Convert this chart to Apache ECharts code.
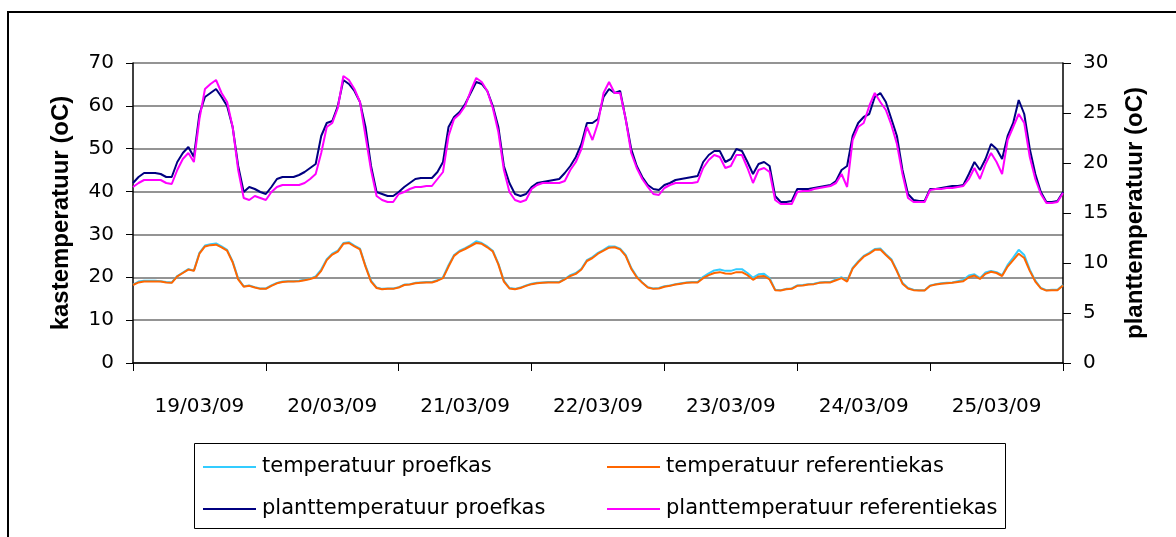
<!DOCTYPE html>
<html style="height:100%">
<meta charset="utf-8" />
<title>kastemperatuur en planttemperatuur</title>
<script src="https://cdn.jsdelivr.net/npm/echarts/dist/echarts.min.js"></script>
<script type="text/javascript">

    // dagen op de x-as
    var dagen = ['19/03/09', '20/03/09', '21/03/09', '22/03/09', '23/03/09', '24/03/09', '25/03/09'];

    // tijd in uren vanaf 19/03/09 00:00 (elk uur, 0..168)
    var uren = [];
    for (var u = 0; u <= 168; u++) { uren.push(u); }

    // kastemperatuur proefkas (linker as), 24 waarden per dag
    var tempProef = [
        18.3, 19.0, 19.2, 19.2, 19.2, 19.1, 18.9, 18.8, 20.3, 21.1, 21.9, 21.6, 25.7, 27.4, 27.7, 27.9, 27.2, 26.4, 23.7, 19.7, 17.9, 18.1, 17.7, 17.4,
        17.4, 18.1, 18.7, 19.0, 19.1, 19.1, 19.2, 19.4, 19.7, 20.2, 21.8, 24.2, 25.5, 26.2, 28.0, 28.2, 27.4, 26.7, 22.7, 19.2, 17.6, 17.3, 17.4, 17.4,
        17.7, 18.3, 18.4, 18.7, 18.8, 18.9, 18.9, 19.3, 20.0, 22.8, 25.2, 26.2, 26.8, 27.5, 28.4, 28.0, 27.2, 26.2, 23.2, 19.2, 17.5, 17.3, 17.6, 18.1,
        18.5, 18.7, 18.8, 18.9, 18.9, 18.9, 19.6, 20.5, 21.0, 22.0, 24.0, 24.7, 25.7, 26.4, 27.2, 27.2, 26.7, 25.2, 22.2, 20.2, 18.8, 17.7, 17.4, 17.5,
        17.9, 18.1, 18.4, 18.6, 18.8, 18.9, 18.9, 20.1, 20.9, 21.6, 21.8, 21.5, 21.5, 21.9, 21.9, 21.0, 19.9, 20.7, 20.8, 19.8, 17.1, 17.0, 17.3, 17.4,
        18.1, 18.2, 18.4, 18.5, 18.8, 18.9, 18.9, 19.5, 20.0, 19.2, 22.2, 23.7, 25.0, 25.7, 26.6, 26.7, 25.4, 24.2, 21.6, 18.7, 17.5, 17.1, 17.0, 17.0,
        18.1, 18.4, 18.6, 18.7, 18.8, 19.1, 19.4, 20.4, 20.7, 19.8, 21.1, 21.5, 21.2, 20.5, 22.9, 24.6, 26.4, 25.2, 21.8, 19.2, 17.5, 17.0, 17.1, 17.1,
        18.2
    ];

    // kastemperatuur referentiekas (linker as)
    var tempRef = [
        18.2, 18.8, 19.0, 19.0, 19.0, 19.0, 18.8, 18.7, 20.2, 21.0, 21.8, 21.5, 25.5, 27.2, 27.5, 27.6, 27.0, 26.2, 23.5, 19.5, 17.8, 18.0, 17.6, 17.3,
        17.3, 18.0, 18.6, 18.9, 19.0, 19.0, 19.1, 19.3, 19.6, 20.0, 21.5, 24.0, 25.3, 26.0, 27.8, 28.0, 27.2, 26.5, 22.5, 19.0, 17.5, 17.2, 17.3, 17.3,
        17.6, 18.2, 18.3, 18.6, 18.7, 18.8, 18.8, 19.2, 19.8, 22.5, 25.0, 26.0, 26.6, 27.3, 28.0, 27.8, 27.0, 26.0, 23.0, 19.0, 17.4, 17.2, 17.5, 18.0,
        18.4, 18.6, 18.7, 18.8, 18.8, 18.8, 19.5, 20.3, 20.8, 21.8, 23.8, 24.5, 25.5, 26.2, 26.9, 27.0, 26.5, 25.0, 22.0, 20.0, 18.7, 17.6, 17.3, 17.4,
        17.8, 18.0, 18.3, 18.5, 18.7, 18.8, 18.8, 19.8, 20.5, 21.0, 21.2, 20.9, 20.8, 21.2, 21.2, 20.5, 19.4, 20.2, 20.3, 19.5, 17.0, 16.9, 17.2, 17.3,
        18.0, 18.1, 18.3, 18.4, 18.7, 18.8, 18.8, 19.3, 19.8, 19.0, 22.0, 23.5, 24.8, 25.5, 26.4, 26.5, 25.2, 24.0, 21.4, 18.5, 17.4, 17.0, 16.9, 16.9,
        18.0, 18.3, 18.5, 18.6, 18.7, 18.9, 19.1, 20.0, 20.4, 19.6, 20.8, 21.3, 21.0, 20.3, 22.5, 24.0, 25.5, 24.5, 21.5, 19.0, 17.4, 16.9, 17.0, 17.0,
        18.1
    ];

    // planttemperatuur proefkas (rechter as)
    var plantProef = [
        18.0, 18.6, 19.0, 19.0, 19.0, 18.9, 18.6, 18.6, 20.1, 21.0, 21.6, 20.6, 24.9, 26.6, 27.0, 27.4, 26.6, 25.7, 23.6, 19.7, 17.1, 17.6, 17.4, 17.1,
        16.9, 17.6, 18.4, 18.6, 18.6, 18.6, 18.8, 19.1, 19.5, 19.9, 22.7, 24.0, 24.2, 25.7, 28.3, 27.9, 27.2, 26.1, 23.6, 19.7, 17.1, 16.9, 16.7, 16.7,
        17.1, 17.6, 18.0, 18.4, 18.5, 18.5, 18.5, 19.1, 20.1, 23.6, 24.6, 25.1, 25.9, 27.0, 28.1, 27.9, 27.2, 25.7, 23.6, 19.7, 18.0, 16.9, 16.7, 16.9,
        17.6, 18.0, 18.1, 18.2, 18.3, 18.4, 19.0, 19.7, 20.6, 21.9, 24.0, 24.0, 24.4, 26.6, 27.4, 27.0, 27.2, 24.4, 21.4, 19.7, 18.6, 17.8, 17.4, 17.3,
        17.8, 18.0, 18.3, 18.4, 18.5, 18.6, 18.7, 20.1, 20.8, 21.2, 21.2, 20.1, 20.4, 21.4, 21.2, 20.1, 18.9, 19.9, 20.1, 19.7, 16.7, 16.1, 16.1, 16.2,
        17.4, 17.4, 17.4, 17.5, 17.6, 17.7, 17.8, 18.2, 19.3, 19.7, 22.7, 24.0, 24.6, 24.9, 26.6, 27.0, 26.1, 24.4, 22.7, 19.3, 16.9, 16.3, 16.2, 16.2,
        17.4, 17.4, 17.5, 17.6, 17.7, 17.7, 17.8, 18.9, 20.1, 19.3, 20.4, 21.9, 21.4, 20.4, 22.7, 24.0, 26.3, 24.9, 21.4, 18.9, 17.1, 16.1, 16.1, 16.2,
        17.1
    ];

    // planttemperatuur referentiekas (rechter as)
    var plantRef = [
        17.6, 18.0, 18.3, 18.3, 18.3, 18.3, 18.0, 17.9, 19.3, 20.4, 21.0, 20.1, 24.4, 27.4, 27.9, 28.3, 27.0, 26.1, 23.6, 19.3, 16.5, 16.3, 16.7, 16.5,
        16.3, 17.1, 17.6, 17.8, 17.8, 17.8, 17.8, 18.0, 18.4, 18.9, 21.0, 23.6, 24.0, 25.5, 28.7, 28.3, 27.4, 26.1, 22.7, 19.3, 16.7, 16.3, 16.1, 16.1,
        16.9, 17.1, 17.4, 17.6, 17.6, 17.7, 17.7, 18.4, 19.1, 22.7, 24.4, 24.9, 25.7, 27.2, 28.5, 28.1, 27.2, 25.5, 23.1, 19.3, 17.1, 16.3, 16.1, 16.3,
        17.4, 17.8, 18.0, 18.0, 18.0, 18.0, 18.2, 19.3, 20.1, 21.4, 23.6, 22.3, 24.0, 27.0, 28.1, 27.0, 27.0, 24.4, 21.0, 19.5, 18.4, 17.6, 16.9, 16.8,
        17.5, 17.8, 18.0, 18.0, 18.0, 18.0, 18.1, 19.5, 20.3, 20.8, 20.6, 19.5, 19.7, 20.8, 20.8, 19.5, 18.0, 19.3, 19.5, 19.1, 16.3, 15.9, 15.9, 15.9,
        17.1, 17.2, 17.2, 17.4, 17.5, 17.6, 17.7, 18.0, 18.9, 17.6, 22.3, 23.6, 24.0, 25.7, 27.0, 26.1, 25.3, 23.8, 21.9, 18.9, 16.5, 16.1, 16.1, 16.1,
        17.3, 17.4, 17.4, 17.5, 17.5, 17.6, 17.7, 18.4, 19.5, 18.4, 19.9, 21.0, 20.1, 18.9, 22.3, 23.6, 24.9, 24.0, 20.6, 18.4, 16.9, 16.0, 16.0, 16.1,
        17.0
    ];

    var reeksNamen = ['temperatuur proefkas', 'temperatuur referentiekas',
                      'planttemperatuur proefkas', 'planttemperatuur referentiekas'];
    var kleuren = ['#33ccff', '#ff6600', '#000080', '#ff00ff'];

    function paren(waarden) {
        var res = [];
        for (var i = 0; i < uren.length; i++) {
            res.push([uren[i], waarden[i]]);
        }
        return res;
    }

    function legenda(naam, x, y) {
        return {
            data: [naam],
            left: x,
            top: y,
            padding: 0,
            icon: 'rect',
            itemWidth: 53,
            itemHeight: 2,
            itemGap: 0,
            textStyle: { fontFamily: 'DejaVu Sans', fontSize: 21, color: '#000', lineHeight: 24, padding: [0, 0, 0, 1] }
        };
    }

    function lijn(naam, kleur, data, yAs) {
        return {
            name: naam,
            type: 'line',
            xAxisIndex: 1,
            yAxisIndex: yAs,
            data: paren(data),
            showSymbol: false,
            symbol: 'none',
            lineStyle: { color: kleur, width: 2 },
            itemStyle: { color: kleur }
        };
    }

    function init() {
        var myChart = echarts.init(document.getElementById('chartmain'));
        var tick = { fontFamily: 'DejaVu Sans', fontSize: 20, color: '#000' };
        var titel = { fontFamily: 'Liberation Sans', fontSize: 24, fontWeight: 'bold', color: '#000' };
        var option = {
            backgroundColor: '#fff',
            animation: false,
            grid: { left: 133, top: 63, right: 113, bottom: 174 },
            legend: [
                legenda(reeksNamen[0], 203, 455),
                legenda(reeksNamen[1], 607, 455),
                legenda(reeksNamen[2], 203, 497),
                legenda(reeksNamen[3], 607, 497)
            ],
            graphic: [
                { type: 'rect', shape: { x: 8, y: 12, width: 1300, height: 700 },
                  style: { fill: 'none', stroke: '#000', lineWidth: 2 } },
                { type: 'rect', shape: { x: 194.5, y: 443.5, width: 811, height: 85 },
                  style: { fill: 'none', stroke: '#000', lineWidth: 1 } }
            ],
            xAxis: [
                {
                    type: 'category',
                    data: dagen,
                    boundaryGap: true,
                    axisLine: { lineStyle: { color: '#000', width: 1.5 } },
                    axisTick: { show: true, length: 8, lineStyle: { color: '#000' } },
                    axisLabel: Object.assign({ margin: 34 }, tick),
                    splitLine: { show: false }
                },
                {
                    type: 'value',
                    min: 0,
                    max: 168,
                    show: false
                }
            ],
            yAxis: [
                {
                    type: 'value',
                    min: 0,
                    max: 70,
                    interval: 10,
                    name: 'kastemperatuur (oC)',
                    nameLocation: 'middle',
                    nameRotate: 90,
                    nameGap: 60,
                    nameTextStyle: titel,
                    axisLine: { show: true, lineStyle: { color: '#000', width: 1.5 } },
                    axisTick: { show: true, length: 7, lineStyle: { color: '#000' } },
                    axisLabel: Object.assign({ margin: 19 }, tick),
                    splitLine: { show: true, lineStyle: { color: '#707070', width: 1.5 } }
                },
                {
                    type: 'value',
                    min: 0,
                    max: 30,
                    interval: 5,
                    position: 'right',
                    name: 'planttemperatuur (oC)',
                    nameLocation: 'middle',
                    nameRotate: 90,
                    nameGap: 60,
                    nameTextStyle: titel,
                    axisLine: { show: true, lineStyle: { color: '#000', width: 1.5 } },
                    axisTick: { show: true, length: 8, lineStyle: { color: '#000' } },
                    axisLabel: Object.assign({ margin: 20 }, tick),
                    splitLine: { show: false }
                }
            ],
            series: [
                lijn(reeksNamen[0], kleuren[0], tempProef, 0),
                lijn(reeksNamen[1], kleuren[1], tempRef, 0),
                lijn(reeksNamen[2], kleuren[2], plantProef, 1),
                lijn(reeksNamen[3], kleuren[3], plantRef, 1)
            ]
        };
        myChart.setOption(option);
    }
</script>
<body onload="init()" style="margin:0;height:100%;width:100%">
    <div id="chartmain" style="width:1176px;height:537px;"></div>
</body>
</html>
